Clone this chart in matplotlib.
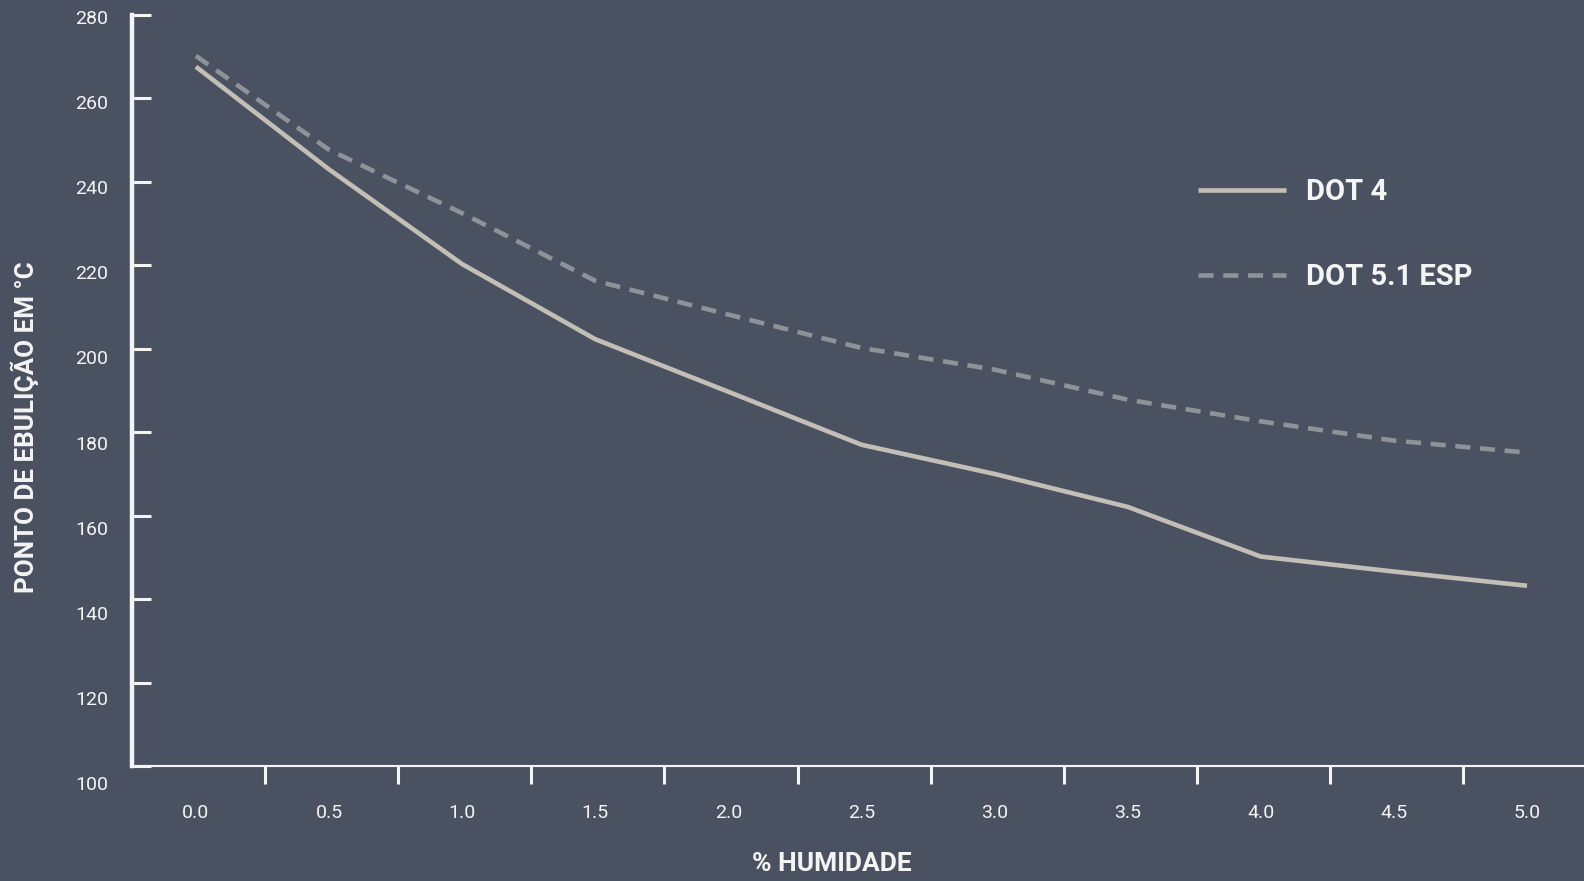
import numpy as np
import matplotlib
matplotlib.use("Agg")
from matplotlib import pyplot as plt
from matplotlib.ticker import FixedLocator

# data
humidade = [0.0, 0.5, 1.0, 1.5, 2.0, 2.5, 3.0, 3.5, 4.0, 4.5, 5.0]
dot4 = [267.6, 243.0, 220.3, 202.3, 189.7, 177.0, 170.0, 162.1, 150.2, 146.6, 143.2]
dot51 = [270.2, 247.7, 232.5, 216.3, 208.2, 200.2, 195.0, 187.8, 182.6, 178.0, 175.1]
x_ticks = [0.0, 0.5, 1.0, 1.5, 2.0, 2.5, 3.0, 3.5, 4.0, 4.5, 5.0]
y_ticks = [100, 120, 140, 160, 180, 200, 220, 240, 260, 280]
series_names = ["DOT 4", "DOT 5.1 ESP"]

BG = "#4a5261"
WHITE = "#f4f4f4"
C_DOT4 = "#c3beb6"
C_DOT51 = "#8f9298"

plt.rcParams['font.family'] = ['Roboto', 'DejaVu Sans']

W, H = 1584, 881
fig = plt.figure(figsize=(W / 100, H / 100), dpi=100, facecolor=BG)

# main axes: left spine at x=132, x spine at y=766, top at y=15
ax = fig.add_axes([132 / W, (H - 766) / H, (W - 132) / W, (766 - 15) / H])
ax.set_facecolor(BG)
ax.plot(humidade, dot4, color=C_DOT4, lw=3.3, solid_capstyle='butt',
        solid_joinstyle='round', label=series_names[0])
ax.plot(humidade, dot51, color=C_DOT51, lw=3.3, dashes=(3.3, 2.1),
        dash_capstyle='butt', label=series_names[1])

ax.set_xlim(-0.240, 5.214)
ax.set_ylim(100, 280)

for s in ['top', 'right']:
    ax.spines[s].set_visible(False)
ax.spines['left'].set_color(WHITE)
ax.spines['left'].set_linewidth(3.2)
ax.spines['bottom'].set_color(WHITE)
ax.spines['bottom'].set_linewidth(1.5)

# x: labels on the values, tick marks in between
ax.set_xticks(x_ticks)
ax.set_xticklabels([f"{v:.1f}" for v in x_ticks])
ax.tick_params(axis='x', which='major', length=0, pad=27, labelsize=14,
               labelcolor=WHITE)
ax.xaxis.set_minor_locator(FixedLocator([v + 0.26 for v in x_ticks[:-1]]))
ax.tick_params(axis='x', which='minor', direction='out', length=13,
               width=2.2, color=WHITE)

# y: ticks pointing inward, labels drawn on a helper axis
ax.set_yticks(y_ticks)
ax.tick_params(axis='y', direction='in', length=13.7, width=2.2,
               color=WHITE, labelleft=False)

lab_ax = fig.add_axes([108 / W, (H - 783) / H, 1 / W, (783 - 17) / H])
lab_ax.set_ylim(100, 280)
lab_ax.set_yticks(y_ticks)
lab_ax.set_yticklabels([str(v) for v in y_ticks])
lab_ax.set_xticks([])
lab_ax.tick_params(axis='y', length=0, pad=0, labelsize=14, labelcolor=WHITE)
lab_ax.patch.set_visible(False)
for s in lab_ax.spines.values():
    s.set_visible(False)

fig.text(25 / W, 1 - 427 / H, "PONTO DE EBULIÇÃO EM °C", rotation=90,
         ha='center', va='center', fontsize=18.7, fontweight='bold', color=WHITE)
fig.text(832 / W, 1 - 864 / H, "% HUMIDADE", ha='center', va='center',
         fontsize=19, fontweight='bold', color=WHITE)

leg = ax.legend(loc='upper left', bbox_to_anchor=(1198 / W, 1 - 178 / H),
                bbox_transform=fig.transFigure, frameon=False, fontsize=21,
                handlelength=3.0, handletextpad=0.72, labelspacing=1.95,
                borderpad=0, borderaxespad=0)
for t in leg.get_texts():
    t.set_color(WHITE)
    t.set_fontweight('bold')

fig.savefig("out.png", dpi=100, facecolor=BG)
